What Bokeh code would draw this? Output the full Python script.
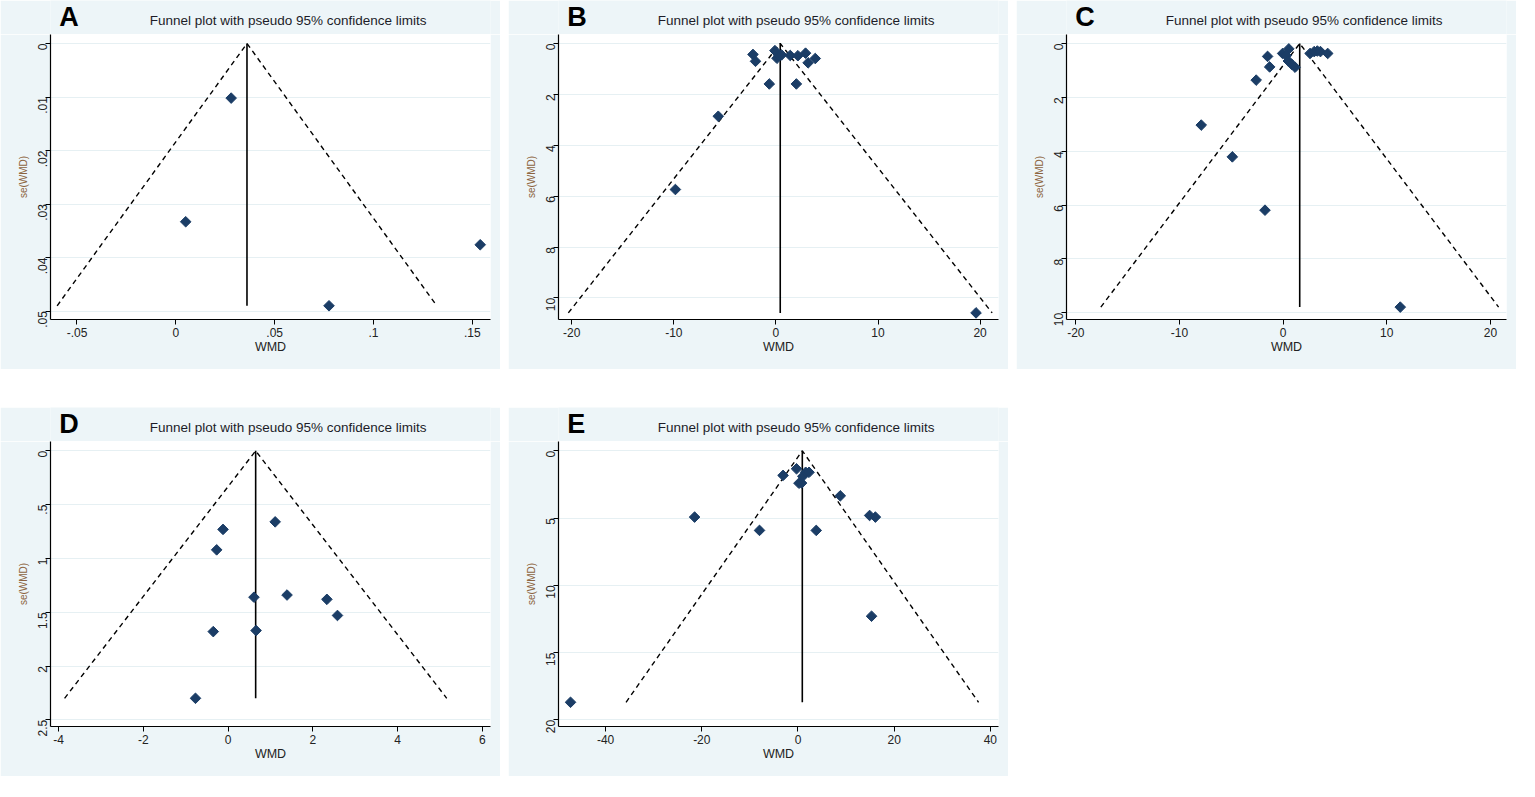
import math
from bokeh.plotting import figure
from bokeh.layouts import column, row
from bokeh.models import Range1d, FixedTicker, Label
from bokeh.embed import file_html
from bokeh.resources import INLINE

# ---------------- data ----------------
TITLE = "Funnel plot with pseudo 95% confidence limits"
X_LABEL = "WMD"
Y_LABEL = "se(WMD)"

A_wmd = [0.028, 0.005, 0.0775, 0.154]
A_se = [0.0102, 0.0333, 0.049, 0.0376]
A_pooled = 0.036
A_xticks = [-0.05, 0, 0.05, 0.1, 0.15]
A_xlabels = ["-.05", "0", ".05", ".1", ".15"]
A_yticks = [0, 0.01, 0.02, 0.03, 0.04, 0.05]
A_ylabels = ["0", ".01", ".02", ".03", ".04", ".05"]

B_wmd = [-2.25, -2.0, -0.1, 0.1, 0.3, 0.55, 1.4, 2.15, 2.9, 3.15, 3.85, -0.65, 2.0, -5.65, -9.85, 19.6]
B_se = [0.43, 0.70, 0.28, 0.58, 0.47, 0.45, 0.47, 0.48, 0.38, 0.76, 0.59, 1.59, 1.59, 2.86, 5.74, 10.59]
B_pooled = 0.42
B_xticks = [-20, -10, 0, 10, 20]
B_xlabels = ["-20", "-10", "0", "10", "20"]
B_yticks = [0, 2, 4, 6, 8, 10]
B_ylabels = ["0", "2", "4", "6", "8", "10"]

C_wmd = [-7.9, -4.9, -1.75, 11.3, -2.6, -1.3, -1.5, -0.05, 0.55, 0.3, 0.5, 0.85, 1.15, 2.6, 3.0, 3.3, 3.6, 4.3]
C_se = [3.03, 4.21, 6.19, 9.79, 1.36, 0.87, 0.48, 0.37, 0.2, 0.45, 0.65, 0.78, 0.88, 0.37, 0.3, 0.28, 0.3, 0.37]
C_pooled = 1.6
C_xticks = [-20, -10, 0, 10, 20]
C_xlabels = ["-20", "-10", "0", "10", "20"]
C_yticks = [0, 2, 4, 6, 8, 10]
C_ylabels = ["0", "2", "4", "6", "8", "10"]

D_wmd = [1.11, -0.12, -0.27, 0.61, 1.39, 2.33, 2.58, -0.35, 0.66, -0.77]
D_se = [0.66, 0.73, 0.92, 1.36, 1.34, 1.38, 1.53, 1.68, 1.67, 2.30]
D_pooled = 0.65
D_xticks = [-4, -2, 0, 2, 4, 6]
D_xlabels = ["-4", "-2", "0", "2", "4", "6"]
D_yticks = [0, 0.5, 1, 1.5, 2, 2.5]
D_ylabels = ["0", ".5", "1", "1.5", "2", "2.5"]

E_wmd = [-47.3, -21.5, -8.0, -3.1, -0.3, 0.2, 0.75, 1.0, 1.6, 2.3, 8.8, 3.8, 14.9, 16.1, 15.3]
E_se = [18.7, 4.93, 5.92, 1.83, 1.34, 2.41, 2.4, 1.9, 1.6, 1.6, 3.35, 5.92, 4.81, 4.93, 12.3]
E_pooled = 0.9
E_xticks = [-40, -20, 0, 20, 40]
E_xlabels = ["-40", "-20", "0", "20", "40"]
E_yticks = [0, 5, 10, 15, 20]
E_ylabels = ["0", "5", "10", "15", "20"]

# ---------------- style ----------------
BG = "#EDF5F8"
GRID = "#E6F0F3"
MARK = "#1B3D66"
FONT = "Liberation Sans"
W = 500
HEAD = 34                 # header strip (letter + title)
H = 335                   # plot body
BL, BR, BB = 50, 10, 50   # borders around the frame (px)
FW = W - BL - BR


def header(letter):
    h = figure(width=W, height=HEAD, output_backend="svg", toolbar_location=None,
               x_range=Range1d(0, W), y_range=Range1d(HEAD, 0),
               min_border=0, title=None)
    h.axis.visible = False
    h.grid.visible = False
    h.border_fill_color = BG
    h.background_fill_color = BG
    h.outline_line_color = None
    h.add_layout(Label(x=10, y=1, text=letter, text_font=FONT,
                       text_font_size="27px", text_font_style="bold",
                       text_color="black", text_baseline="top",
                       text_align="left"))
    h.add_layout(Label(x=BL + FW / 2, y=20, text=TITLE, text_font=FONT,
                       text_font_size="13.5px", text_color="#1c1c28",
                       text_baseline="middle", text_align="center"))
    return h


def body(wmd, se, pooled, xr, yr, xticks, xlabels, yticks, ylabels):
    p = figure(width=W, height=H, output_backend="svg", toolbar_location=None,
               x_range=Range1d(*xr), y_range=Range1d(*yr), title=None,
               min_border_left=BL, min_border_right=BR,
               min_border_top=0, min_border_bottom=BB)
    p.border_fill_color = BG
    p.background_fill_color = "white"
    p.outline_line_color = None

    for ax in (p.xaxis[0], p.yaxis[0]):
        ax.axis_line_color = "black"
        ax.axis_line_width = 1.2
        ax.major_tick_line_color = "black"
        ax.major_tick_out = 5
        ax.major_tick_in = 0
        ax.minor_tick_line_color = None
        ax.major_label_text_font = FONT
        ax.major_label_text_font_size = "12px"
        ax.major_label_text_color = "#222222"
        ax.axis_label_text_font = FONT
        ax.axis_label_text_font_style = "normal"
        ax.major_label_standoff = 3
    p.xaxis.ticker = FixedTicker(ticks=xticks)
    p.xaxis.major_label_overrides = dict(zip(xticks, xlabels))
    p.xaxis.axis_label = X_LABEL
    p.xaxis.axis_label_text_font_size = "12.5px"
    p.xaxis.axis_label_text_color = "#222222"
    p.xaxis.axis_label_standoff = 0

    p.yaxis.ticker = FixedTicker(ticks=yticks)
    p.yaxis.major_label_overrides = dict(zip(yticks, ylabels))
    p.yaxis.major_label_orientation = math.pi / 2
    p.yaxis.axis_label = Y_LABEL
    p.yaxis.axis_label_text_font_size = "10px"
    p.yaxis.axis_label_text_color = "#8C6440"
    p.yaxis.axis_label_standoff = 2

    p.xgrid.grid_line_color = None
    p.ygrid.grid_line_color = GRID
    p.ygrid.grid_line_width = 1.2

    se_max = max(se)
    p.line([pooled - 1.96 * se_max, pooled, pooled + 1.96 * se_max],
           [se_max, 0, se_max], line_color="black", line_width=1.4,
           line_dash="5 4")
    p.line([pooled, pooled], [0, se_max], line_color="black", line_width=1.6)

    p.scatter(wmd, se, marker="square", angle=math.pi / 4, size=7.5,
              fill_color=MARK, line_color=MARK, line_width=1)
    return p


def panel(letter, *args):
    return column(header(letter), body(*args), spacing=0)


pA = panel("A", A_wmd, A_se, A_pooled, (-0.0634, 0.1592), (0.05156, -0.00168),
           A_xticks, A_xlabels, A_yticks, A_ylabels)
pB = panel("B", B_wmd, B_se, B_pooled, (-21.3, 21.8), (10.85, -0.354),
           B_xticks, B_xlabels, B_yticks, B_ylabels)
pC = panel("C", C_wmd, C_se, C_pooled, (-20.9, 21.55), (10.25, -0.334),
           C_xticks, C_xlabels, C_yticks, C_ylabels)
pD = panel("D", D_wmd, D_se, D_pooled, (-4.19, 6.19), (2.562, -0.087),
           D_xticks, D_xlabels, D_yticks, D_ylabels)
pE = panel("E", E_wmd, E_se, E_pooled, (-49.8, 41.7), (20.5, -0.69),
           E_xticks, E_xlabels, E_yticks, E_ylabels)

layout = column(row(pA, pB, pC, spacing=8),
                row(pD, pE, spacing=8),
                spacing=38)

open("out.html", "w").write(file_html(layout, INLINE))
